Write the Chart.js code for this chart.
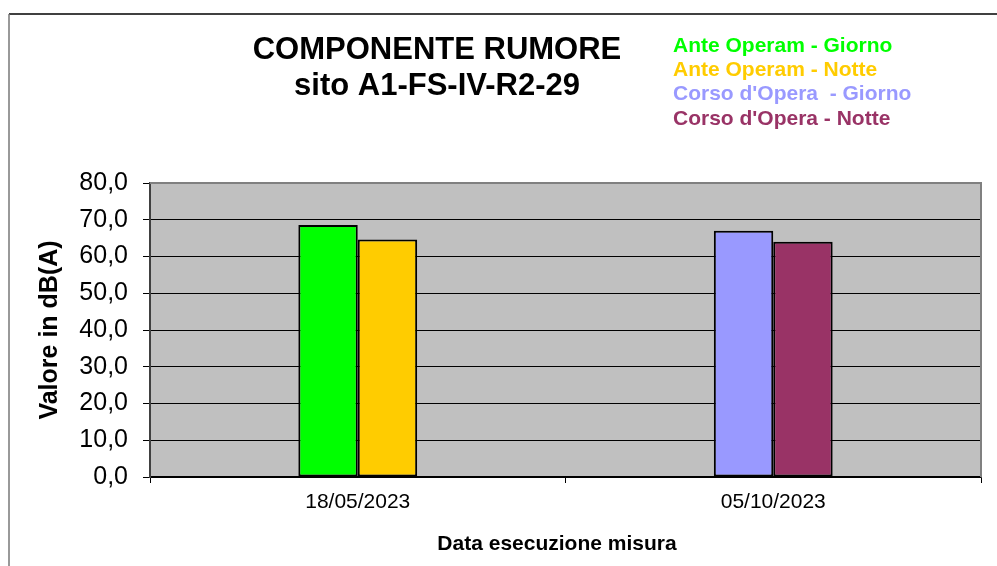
<!DOCTYPE html>
<html>
<head>
<meta charset="utf-8">
<script src="https://cdn.jsdelivr.net/npm/chart.js@4/dist/chart.umd.min.js"></script>
<style>
  html, body { margin: 0; padding: 0; background: #fff; }
  #wrap { width: 997px; height: 566px; }
</style>
</head>
<body>
<div id="wrap"><canvas id="noiseChart"></canvas></div>
<script>
const dates = ['18/05/2023', '05/10/2023'];
const seriesNames = ['Ante Operam - Giorno', 'Ante Operam - Notte', "Corso d'Opera  - Giorno", "Corso d'Opera - Notte"];
const anteGiorno = [68.6, null];
const anteNotte = [64.6, null];
const corsoGiorno = [null, 67.0];
const corsoNotte = [null, 64.0];
const seriesColors = ['#00FF00', '#FFCC00', '#9999FF', '#993366'];
const titleLines = ['COMPONENTE RUMORE', 'sito A1-FS-IV-R2-29'];
const yTitle = 'Valore in dB(A)';
const xTitle = 'Data esecuzione misura';

const font = '"Liberation Sans", Arial, sans-serif';

// plot background, frame, titles and the coloured text legend
const decor = {
  id: 'decor',
  beforeDraw(chart) {
    const c = chart.ctx, a = chart.chartArea;
    c.save();
    c.fillStyle = '#C0C0C0';
    c.fillRect(a.left, a.top, a.right - a.left, a.bottom - a.top);
    c.restore();
  },
  afterDatasetsDraw(chart) {
    const c = chart.ctx, a = chart.chartArea;
    c.save();
    // plot area border (top / right)
    c.strokeStyle = '#808080';
    c.lineWidth = 2;
    c.beginPath();
    c.moveTo(a.left, a.top);
    c.lineTo(a.right, a.top);
    c.lineTo(a.right, a.bottom);
    c.stroke();

    // outer frame
    c.lineWidth = 1.5;
    c.strokeStyle = '#000';
    c.beginPath();
    c.moveTo(9, 14);
    c.lineTo(997, 14);
    c.stroke();
    c.strokeStyle = '#777';
    c.beginPath();
    c.moveTo(9, 14);
    c.lineTo(9, 566);
    c.stroke();

    // title
    c.fillStyle = '#000';
    c.textAlign = 'center';
    c.textBaseline = 'alphabetic';
    c.font = 'bold 31px ' + font;
    c.fillText(titleLines[0], 437, 59);
    c.fillText(titleLines[1], 437, 95);

    // legend as coloured text
    c.textAlign = 'left';
    c.font = 'bold 21px ' + font;
    seriesNames.forEach((n, i) => {
      c.fillStyle = seriesColors[i];
      c.fillText(n, 673, 52 + i * 24.2);
    });

    // axis titles
    c.fillStyle = '#000';
    c.textAlign = 'center';
    c.font = 'bold 21px ' + font;
    c.fillText(xTitle, 557, 550);

    c.translate(57, (a.top + a.bottom) / 2);
    c.rotate(-Math.PI / 2);
    c.font = 'bold 25px ' + font;
    c.fillText(yTitle, 0, 0);
    c.restore();
  }
};

const seriesData = [anteGiorno, anteNotte, corsoGiorno, corsoNotte];

new Chart(document.getElementById('noiseChart'), {
  type: 'bar',
  data: {
    labels: dates,
    datasets: seriesData.map((d, i) => ({
      label: seriesNames[i],
      data: d,
      backgroundColor: seriesColors[i],
      borderColor: '#000',
      borderWidth: 2,
      borderSkipped: false,
      categoryPercentage: 0.286,
      barPercentage: 1,
      skipNull: true
    }))
  },
  options: {
    responsive: true,
    maintainAspectRatio: false,
    animation: false,
    layout: { padding: { top: 183, right: 16, left: 0, bottom: 0 } },
    plugins: {
      legend: { display: false },
      tooltip: { enabled: false }
    },
    scales: {
      x: {
        offset: true,
        afterFit(scale) { scale.height = 89; },
        grid: {
          offset: true,
          drawOnChartArea: false,
          drawTicks: true,
          tickLength: 6,
          tickColor: '#000'
        },
        border: { display: true, color: '#000', width: 1.5 },
        ticks: {
          color: '#000',
          padding: 7,
          maxRotation: 0,
          font: { family: font, size: 21 }
        }
      },
      y: {
        min: 0,
        max: 80,
        afterFit(scale) { scale.width = 150; },
        ticks: {
          stepSize: 10,
          color: '#000',
          padding: 15,
          font: { family: font, size: 25 },
          callback: v => v.toFixed(1).replace('.', ',')
        },
        grid: {
          color: ctx => (ctx.tick && ctx.tick.value === 80) ? 'rgba(0,0,0,0)' : '#000',
          lineWidth: 1,
          tickLength: 7,
          tickColor: '#000'
        },
        border: { display: true, color: '#404040', width: 2 }
      }
    }
  },
  plugins: [decor]
});
</script>
</body>
</html>
